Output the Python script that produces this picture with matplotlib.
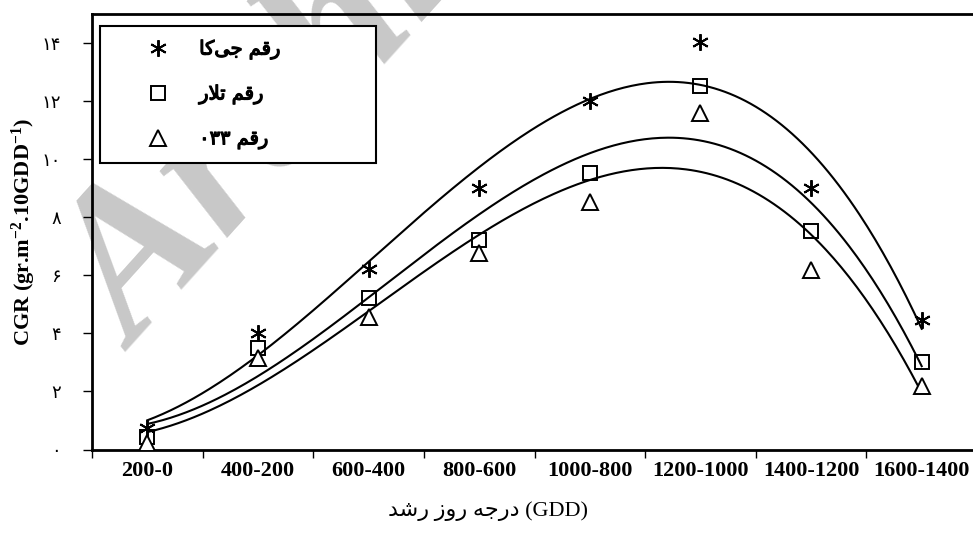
import numpy as np
import matplotlib
matplotlib.use('Agg')
import matplotlib.pyplot as plt
import matplotlib.patheffects as pe
from matplotlib.lines import Line2D

plt.rcParams['mathtext.fontset'] = 'custom'
plt.rcParams['mathtext.rm'] = 'Liberation Serif:bold'
plt.rcParams['mathtext.bf'] = 'Liberation Serif:bold'
plt.rcParams['mathtext.default'] = 'rm'

# GDD classes (x categories)
categories = ['200-0', '400-200', '600-400', '800-600',
              '1000-800', '1200-1000', '1400-1200', '1600-1400']

# CGR values
jk = [0.73, 4.0, 6.22, 9.0, 12.02, 14.03, 9.0, 4.47]        # star
talar = [0.44, 3.51, 5.23, 7.22, 9.52, 12.53, 7.51, 3.0]    # square
r033 = [0.21, 3.15, 4.58, 6.77, 8.51, 11.59, 6.19, 2.17]    # triangle

# Persian labels, written as presentation forms in visual (left-to-right) order
lab_jk = '\uFE8E\uFB90\uFBFD\uFE9F \uFEE2\uFED7\uFEAD'
lab_talar = '\uFEAD\uFEFC\uFE97 \uFEE2\uFED7\uFEAD'
lab_033 = '\u06F0\u06F3\u06F3 \uFEE2\uFED7\uFEAD'
xlab = '\uFEAA\uFEB7\uFEAD \uFEAF\uFEED\uFEAD \uFEEA\uFE9F\uFEAD\uFEA9 (GDD)'
yticks = [0, 2, 4, 6, 8, 10, 12, 14]
fa_digits = str.maketrans('0123456789', '\u06F0\u06F1\u06F2\u06F3\u06F4\u06F5\u06F6\u06F7\u06F8\u06F9')
ytick_labels = [str(v).translate(fa_digits) for v in yticks]

x = np.arange(1, len(categories) + 1)
xs = np.linspace(1, len(categories), 300)

fig = plt.figure(figsize=(9.73, 5.35), dpi=100)

# watermark (behind the axes)
fig.text(0.14, 0.342, 'Archive of SID', rotation=48, rotation_mode='anchor',
         ha='left', va='baseline', fontsize=150, color='#c8c8c8',
         family='Liberation Serif', weight='bold', style='italic', zorder=-1)

ax = fig.add_axes([92/973, 1 - 449.5/535, 885/973, 435.5/535])
ax.patch.set_alpha(0)

for vals in (jk, talar, r033):
    coef = np.polyfit(x, vals, 3)
    ax.plot(xs, np.polyval(coef, xs), color='black', lw=1.5, zorder=2)

ax.plot(x, jk, ls='none', marker=(6, 2, 0), ms=12, mec='black', mew=1.4, zorder=3)
ax.plot(x, talar, ls='none', marker='s', ms=10, mfc='none', mec='black', mew=1.4, zorder=3)
ax.plot(x, r033, ls='none', marker='^', ms=12, mfc='white', mec='black', mew=1.4, zorder=3)

ax.set_xlim(0.5, len(categories) + 0.5)
ax.set_ylim(0, 15)

ax.set_xticks(np.arange(0.5, len(categories) + 1, 1))
ax.set_xticklabels([])
ax.set_xticks(x, minor=True)
ax.set_xticklabels(categories, minor=True, family='Liberation Serif',
                   weight='bold', fontsize=16)
ax.tick_params(axis='x', which='minor', length=0, pad=8)
ax.tick_params(axis='x', which='major', length=6, width=1, direction='out')

ax.set_yticks(yticks)
ax.set_yticklabels(ytick_labels, family='DejaVu Sans', fontsize=13)
ax.tick_params(axis='y', length=6.5, width=1, direction='out', pad=16)

for side in ('left', 'bottom', 'top'):
    ax.spines[side].set_linewidth(2)
ax.spines['right'].set_visible(False)

ax.set_xlabel(xlab, family=['Liberation Serif', 'DejaVu Sans'], fontsize=16)
ax.xaxis.set_label_coords(0.447, -0.12)
ax.set_ylabel(r'CGR (gr.m$^{-2}$.10GDD$^{-1}$)',
              family='Liberation Serif', weight='bold', fontsize=16)
ax.yaxis.set_label_coords(-0.061, 0.5)

handles = [
    Line2D([], [], ls='none', marker=(6, 2, 0), ms=12, mec='black', mew=1.4),
    Line2D([], [], ls='none', marker='s', ms=10, mfc='none', mec='black', mew=1.4),
    Line2D([], [], ls='none', marker='^', ms=12, mfc='none', mec='black', mew=1.4),
]
leg = ax.legend(handles, [lab_jk, lab_talar, lab_033], loc='upper left',
                bbox_to_anchor=(8/885, 0.6625, 276/885, 0.31), mode='expand',
                frameon=True, fancybox=False,
                edgecolor='black', framealpha=1, borderpad=0.7, labelspacing=1.28,
                handlelength=4.6, handletextpad=-0.2, borderaxespad=0,
                prop={'family': 'DejaVu Sans', 'size': 14})
leg.get_frame().set_linewidth(1.5)
for t in leg.get_texts():
    t.set_path_effects([pe.withStroke(linewidth=0.9, foreground='black')])

plt.savefig('out.png', dpi=100)
